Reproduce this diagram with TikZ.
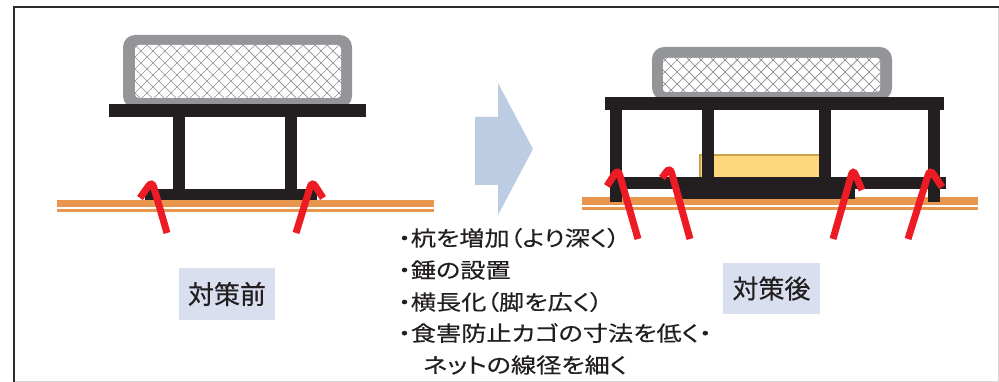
\documentclass[tikz,border=0pt]{standalone}
\usepackage{fontspec}
\newfontfamily\jpbody[RawFeature=+palt,FakeStretch=1.2,FakeBold=0.4]{Noto Sans CJK JP}
\newfontfamily\jplabel[FakeBold=0.4]{Noto Sans CJK JP}
\definecolor{frameblack}{HTML}{2B2B2B}
\definecolor{framegray}{HTML}{D4D4D4}
\definecolor{structblack}{HTML}{231F20}
\definecolor{cagegray}{HTML}{939598}
\definecolor{hatchgray}{HTML}{8E8E8E}
\definecolor{groundorange}{HTML}{E8964E}
\definecolor{stakered}{HTML}{ED1C24}
\definecolor{arrowblue}{HTML}{BCCDE3}
\definecolor{tagblue}{HTML}{D9DFEE}
\definecolor{weightyellow}{HTML}{FFD87D}
\definecolor{weightedge}{HTML}{C9A24A}
\definecolor{inktext}{HTML}{231F20}
\tikzset{
  beam/.style={fill=structblack},
  hatch/.style={draw=hatchgray, line width=0.7pt},
  stake/.style={draw=stakered, line width=7pt, rounded corners=6pt, line cap=butt},
  tagbox/.style={fill=tagblue, inner sep=0pt, font=\jplabel\fontsize{26}{30}\selectfont, text=inktext},
  listline/.style={anchor=west, inner sep=0pt, font=\jpbody\fontsize{21}{25}\selectfont, text=inktext},
}
\begin{document}
\begin{tikzpicture}[x=1pt,y=-1pt]
\useasboundingbox (0,0) rectangle (999,382);
\fill[white] (0,0) rectangle (999,382);

% outer frame
\draw[framegray, line width=1pt] (998,7) -- (998,381) -- (14,381);
\draw[frameblack, line width=2.5pt] (14,382) -- (14,7) -- (999,7);

% ---------- cage on the left structure ----------
\fill[cagegray, rounded corners=12pt] (123,35) rectangle (352,108);
\fill[white, rounded corners=4pt] (135,45) rectangle (341,98);
\begin{scope}
  \clip[rounded corners=4pt] (135,45) rectangle (341,98);
  \foreach \k in {-60,-48,...,216} {
    \draw[hatch] (135+\k,45) -- (135+\k+60,105);
    \draw[hatch] (135+\k+60,45) -- (135+\k,105);
  }
\end{scope}

% ---------- left structure ----------
\fill[groundorange] (57,200) rectangle (434,207);
\fill[groundorange] (57,209.5) rectangle (434,212);
\fill[beam] (109,104) rectangle (366,117);
\fill[beam] (173,117) rectangle (185,192);
\fill[beam] (285,117) rectangle (297,192);
\fill[beam] (145,189) rectangle (317,200);
\draw[stake] (167,233) -- (152,181) -- (140,198);
\draw[stake] (296,233) -- (312,181) -- (323,198);

\node[tagbox, minimum width=96pt, minimum height=52pt] (before) at (227,294) {対策前};

% ---------- arrow between the two states ----------
\fill[arrowblue] (475,117) -- (498,117) -- (498,83) -- (533,149)
  -- (498,215) -- (498,185) -- (475,185) -- cycle;

% ---------- list of countermeasures ----------
\node[listline] (m1) at (398,238) {・杭を増加（より深く）};
\node[listline] (m2) at (398,270) {・錘の設置};
\node[listline] (m3) at (398,302) {・横長化（脚を広く）};
\node[listline] (m4) at (398,333) {・食害防止カゴの寸法を低く・};
\node[listline] (m5) at (423,365) {ネットの線径を細く};

% ---------- cage on the right structure ----------
\fill[cagegray, rounded corners=12pt] (652,47) rectangle (892,100);
\fill[white, rounded corners=3pt] (663,58) rectangle (880,92);
\begin{scope}
  \clip[rounded corners=3pt] (663,58) rectangle (880,92);
  \foreach \k in {-48,-36,...,228} {
    \draw[hatch] (663+\k,58) -- (663+\k+40,98);
    \draw[hatch] (663+\k+40,58) -- (663+\k,98);
  }
\end{scope}

% ---------- right structure ----------
\fill[groundorange] (582,197) rectangle (978,205);
\fill[groundorange] (582,207.5) rectangle (978,210);
% weight between the inner legs
\fill[weightyellow] (699,155) rectangle (820,178);
\fill[weightedge] (699,154) rectangle (820,156.5);
\fill[weightedge] (699,154) rectangle (700.5,178);
\fill[beam] (605,97) rectangle (944,110);
\fill[beam] (610,110) rectangle (622,202);
\fill[beam] (928,110) rectangle (940,202);
\fill[beam] (702,110) rectangle (714,180);
\fill[beam] (819,110) rectangle (831,180);
\fill[beam] (610,177) rectangle (946,189);
\fill[beam] (675,188) rectangle (855,199);
\draw[stake] (638,239) -- (618,169) -- (607,186);
\draw[stake] (690,239) -- (670,167) -- (662,178);
\draw[stake] (833,239) -- (853,169) -- (862,190);
\draw[stake] (908,239) -- (930,169) -- (942,187);

\node[tagbox, minimum width=97pt, minimum height=51pt] (after) at (771.5,288.5) {対策後};
\end{tikzpicture}
\end{document}
